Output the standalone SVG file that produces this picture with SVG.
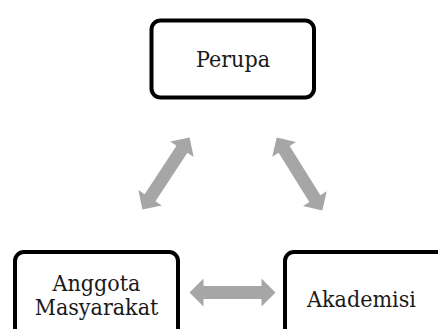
<svg xmlns="http://www.w3.org/2000/svg" xmlns:xlink="http://www.w3.org/1999/xlink" width="438" height="329" viewBox="0 0 438 329">
  <style>
    .box { fill: #ffffff; stroke: #000000; stroke-width: 4; }
    .lbl { font-family: "DejaVu Serif Condensed", "Liberation Serif", serif; font-stretch: condensed; font-size: 23px; fill: #1a1a1a; text-anchor: middle; }
    .arr { fill: #a6a6a6; }
  </style>
  <defs>
    <polygon id="dblarrow" points="-43,0 -29,-14 -29,-6.5 29,-6.5 29,-14 43,0 29,14 29,6.5 -29,6.5 -29,14"/>
  </defs>
  <rect x="0" y="0" width="438" height="329" fill="#ffffff"/>
  <g id="connectors" class="arr">
    <use xlink:href="#dblarrow" href="#dblarrow" transform="translate(166 173.5) rotate(-56.7)"/>
    <use xlink:href="#dblarrow" href="#dblarrow" transform="translate(299.5 174) rotate(58)"/>
    <use xlink:href="#dblarrow" href="#dblarrow" transform="translate(232.5 292.5)"/>
  </g>
  <g id="perupa">
    <rect class="box" x="151.5" y="20.5" width="162.5" height="77" rx="9"/>
    <text class="lbl" x="233" y="67">Perupa</text>
  </g>
  <g id="anggota-masyarakat">
    <rect class="box" x="15" y="252" width="163" height="100" rx="9"/>
    <text class="lbl" x="96.5" y="291">Anggota</text>
    <text class="lbl" x="96.5" y="315">Masyarakat</text>
  </g>
  <g id="akademisi">
    <rect class="box" x="285" y="252" width="180" height="100" rx="9"/>
    <text class="lbl" x="361.5" y="307">Akademisi</text>
  </g>
</svg>
